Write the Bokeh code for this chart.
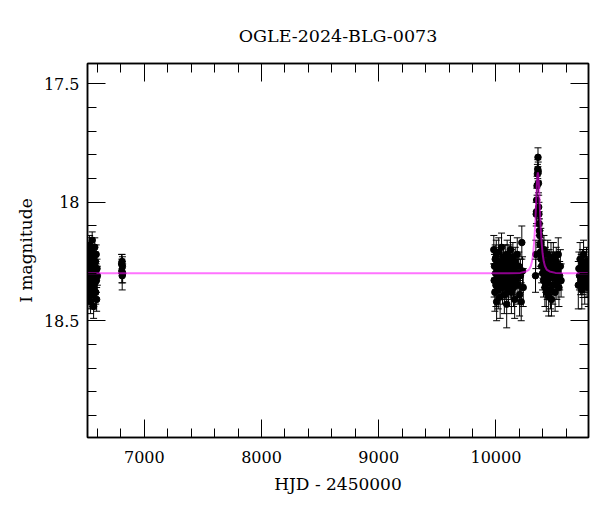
from bokeh.plotting import figure
from bokeh.models import (ColumnDataSource, Range1d, FixedTicker, LinearAxis,
                          Whisker, TeeHead, Title)
from bokeh.embed import file_html
from bokeh.resources import INLINE

# ---------------- data (HJD-2450000, I mag, error) ----------------
season_2013 = [
    (6519, 18.27, 0.04), (6521, 18.33, 0.05), (6523, 18.21, 0.04), (6524, 18.36, 0.05),
    (6526, 18.30, 0.04), (6528, 18.25, 0.04), (6529, 18.40, 0.05), (6531, 18.32, 0.04),
    (6533, 18.18, 0.04), (6534, 18.29, 0.05), (6536, 18.35, 0.04), (6538, 18.23, 0.04),
    (6540, 18.31, 0.05), (6541, 18.42, 0.05), (6543, 18.27, 0.04), (6545, 18.34, 0.04),
    (6547, 18.20, 0.05), (6548, 18.30, 0.04), (6550, 18.37, 0.05), (6552, 18.26, 0.04),
    (6554, 18.32, 0.04), (6555, 18.16, 0.035), (6557, 18.29, 0.05), (6559, 18.39, 0.05),
    (6561, 18.24, 0.04), (6563, 18.33, 0.04), (6565, 18.28, 0.05), (6567, 18.44, 0.05),
    (6569, 18.22, 0.04), (6571, 18.31, 0.04), (6573, 18.36, 0.05), (6575, 18.27, 0.04),
    (6577, 18.19, 0.04), (6579, 18.34, 0.05), (6581, 18.30, 0.04), (6583, 18.25, 0.04),
    (6585, 18.38, 0.05), (6587, 18.29, 0.04), (6589, 18.22, 0.04), (6591, 18.33, 0.05),
    (6593, 18.41, 0.05), (6596, 18.28, 0.04), (6599, 18.31, 0.04),
]
season_2014 = [
    (6806, 18.26, 0.04), (6808, 18.29, 0.05), (6810, 18.25, 0.03),
    (6811, 18.31, 0.06), (6813, 18.27, 0.04), (6815, 18.30, 0.04),
]
season_2023 = [
    (9982, 18.20, 0.06), (9985, 18.33, 0.07), (9988, 18.27, 0.05), (9991, 18.38, 0.08),
    (9994, 18.24, 0.06), (9997, 18.30, 0.07), (10000, 18.35, 0.09), (10003, 18.22, 0.06),
    (10006, 18.42, 0.08), (10009, 18.28, 0.06), (10012, 18.31, 0.07), (10016, 18.25, 0.05),
    (10020, 18.37, 0.08), (10024, 18.21, 0.06), (10028, 18.33, 0.07), (10032, 18.29, 0.06),
    (10036, 18.40, 0.09), (10040, 18.26, 0.07), (10044, 18.34, 0.06), (10048, 18.19, 0.06),
    (10052, 18.31, 0.08), (10056, 18.36, 0.07), (10060, 18.27, 0.06), (10064, 18.23, 0.05),
    (10068, 18.32, 0.07), (10072, 18.39, 0.08), (10076, 18.28, 0.06), (10080, 18.25, 0.07),
    (10084, 18.35, 0.06), (10088, 18.30, 0.08), (10092, 18.43, 0.10), (10096, 18.22, 0.06),
    (10100, 18.33, 0.07), (10104, 18.27, 0.06), (10108, 18.37, 0.07), (10112, 18.24, 0.06),
    (10116, 18.31, 0.08), (10120, 18.29, 0.07), (10124, 18.20, 0.06), (10128, 18.34, 0.07),
    (10132, 18.38, 0.09), (10136, 18.26, 0.06), (10140, 18.32, 0.07), (10145, 18.23, 0.06),
    (10150, 18.36, 0.08), (10155, 18.28, 0.07), (10160, 18.41, 0.08), (10165, 18.25, 0.06),
    (10170, 18.33, 0.07), (10176, 18.30, 0.06), (10182, 18.22, 0.07), (10188, 18.35, 0.08),
    (10195, 18.27, 0.06), (10202, 18.39, 0.09), (10209, 18.31, 0.07), (10216, 18.42, 0.08),
    (10221, 18.17, 0.07), (10227, 18.29, 0.06), (10233, 18.36, 0.08),
]
season_2024 = [
    (10338, 18.31, 0.07), (10341, 18.22, 0.06), (10344, 18.05, 0.05), (10346, 18.04, 0.05),
    (10348, 17.99, 0.05), (10351, 17.93, 0.04), (10354, 17.88, 0.04), (10357, 17.86, 0.04),
    (10359, 17.81, 0.04), (10361, 17.87, 0.04), (10363, 17.92, 0.04), (10365, 18.02, 0.05),
    (10367, 18.05, 0.05), (10369, 18.09, 0.05), (10371, 18.12, 0.05), (10374, 18.14, 0.05),
    (10377, 18.18, 0.06), (10380, 18.21, 0.06), (10383, 18.17, 0.06), (10386, 18.24, 0.06),
    (10390, 18.27, 0.07), (10394, 18.22, 0.06), (10398, 18.30, 0.07), (10402, 18.26, 0.06),
    (10406, 18.33, 0.07), (10410, 18.20, 0.06), (10414, 18.29, 0.07), (10418, 18.36, 0.08),
    (10422, 18.25, 0.06), (10426, 18.31, 0.07), (10430, 18.38, 0.08), (10434, 18.27, 0.06),
    (10438, 18.34, 0.07), (10442, 18.22, 0.06), (10446, 18.30, 0.07), (10450, 18.40, 0.08),
    (10454, 18.26, 0.06), (10458, 18.32, 0.07), (10462, 18.29, 0.06), (10466, 18.37, 0.08),
    (10470, 18.24, 0.07), (10474, 18.41, 0.07), (10478, 18.31, 0.06), (10482, 18.28, 0.07),
    (10486, 18.35, 0.08), (10490, 18.23, 0.06), (10495, 18.32, 0.07), (10500, 18.27, 0.06),
    (10505, 18.38, 0.08), (10510, 18.30, 0.07), (10515, 18.25, 0.06), (10520, 18.34, 0.07),
    (10526, 18.29, 0.06), (10532, 18.22, 0.07), (10538, 18.36, 0.08), (10544, 18.31, 0.06),
    (10550, 18.27, 0.07), (10556, 18.33, 0.07),
]
season_2025 = [
    (10703, 18.35, 0.10), (10708, 18.28, 0.07), (10713, 18.31, 0.06), (10718, 18.24, 0.07),
    (10723, 18.33, 0.06), (10728, 18.29, 0.07), (10733, 18.37, 0.08), (10738, 18.26, 0.06),
    (10743, 18.32, 0.07), (10748, 18.22, 0.06), (10753, 18.30, 0.07), (10758, 18.35, 0.08),
    (10763, 18.27, 0.06), (10768, 18.31, 0.07), (10773, 18.25, 0.06), (10778, 18.33, 0.07),
    (10783, 18.29, 0.06), (10788, 18.36, 0.08),
]

# model light curve
model_t = [6500, 10108, 10208, 10258, 10283, 10298, 10308, 10318, 10328, 10333, 10338,
           10343, 10348, 10353, 10358, 10363, 10368, 10373, 10378, 10383, 10388, 10398,
           10408, 10418, 10433, 10458, 10508, 10608, 10800]
model_mag = [18.300, 18.300, 18.298, 18.292, 18.284, 18.269, 18.249, 18.215, 18.156, 18.113,
             18.060, 17.999, 17.938, 17.889, 17.874, 17.889, 17.938, 17.999, 18.060, 18.113,
             18.156, 18.215, 18.249, 18.269, 18.284, 18.292, 18.298, 18.300, 18.300]

x_major = [7000, 8000, 9000, 10000]
x_minor = [6600, 6800, 7000, 7200, 7400, 7600, 7800, 8000, 8200, 8400, 8600, 8800, 9000,
           9200, 9400, 9600, 9800, 10000, 10200, 10400, 10600]
y_major = [17.5, 18.0, 18.5]
y_minor = [17.5, 17.6, 17.7, 17.8, 17.9, 18.0, 18.1, 18.2, 18.3, 18.4, 18.5, 18.6, 18.7,
           18.8, 18.9]
y_labels = {17.5: "17.5", 18: "18", 18.5: "18.5"}

title_text = "OGLE-2024-BLG-0073"
x_label = "HJD - 2450000"
y_label = "I magnitude"

# ---------------- build ----------------
rows = season_2013 + season_2014 + season_2023 + season_2024 + season_2025
t = [r[0] for r in rows]
m = [r[1] for r in rows]
e = [r[2] for r in rows]
src = ColumnDataSource(dict(t=t, m=m, lo=[a - b for a, b in zip(m, e)],
                            hi=[a + b for a, b in zip(m, e)]))
msrc = ColumnDataSource(dict(t=model_t, m=model_mag))

FONT = "DejaVu Serif"

p = figure(frame_width=501, frame_height=374,
           x_range=Range1d(6515, 10790), y_range=Range1d(18.993, 17.414),
           output_backend="svg", toolbar_location=None,
           min_border_left=87, min_border_top=63, min_border_right=4, min_border_bottom=10,
           x_axis_location=None, y_axis_location=None)
p.xgrid.visible = False
p.ygrid.visible = False
p.outline_line_color = "black"
p.outline_line_width = 1.5
p.background_fill_color = "white"
p.border_fill_color = "white"

xt = FixedTicker(ticks=x_major, minor_ticks=x_minor)
yt = FixedTicker(ticks=y_major, minor_ticks=y_minor)


def style(ax):
    ax.axis_line_color = "black"
    ax.axis_line_width = 1.5
    ax.major_tick_in = 18
    ax.major_tick_out = 0
    ax.minor_tick_in = 9
    ax.minor_tick_out = 0
    ax.major_tick_line_color = "black"
    ax.minor_tick_line_color = "black"
    ax.major_tick_line_width = 1
    ax.minor_tick_line_width = 1
    ax.major_label_text_font = FONT
    ax.major_label_text_color = "black"
    ax.major_label_text_font_size = "16px"
    ax.axis_label_text_font = FONT
    ax.axis_label_text_font_style = "normal"
    ax.axis_label_text_color = "black"
    ax.axis_label_text_font_size = "17px"


bottom = LinearAxis(ticker=xt, axis_label=x_label)
style(bottom)
bottom.major_label_standoff = 13
bottom.axis_label_standoff = 8
left = LinearAxis(ticker=yt, axis_label=y_label, major_label_overrides=y_labels)
style(left)
left.major_label_standoff = 8
left.axis_label_standoff = 5
top = LinearAxis(ticker=xt, major_label_overrides={v: "" for v in x_major})
style(top)
top.major_label_standoff = 0
right = LinearAxis(ticker=yt, major_label_overrides={v: "" for v in y_major})
style(right)
right.major_label_standoff = 0
p.add_layout(bottom, "below")
p.add_layout(left, "left")
p.add_layout(top, "above")
p.add_layout(right, "right")

p.title = Title(text=title_text, align="center", text_font=FONT, text_font_size="17.5px",
                text_font_style="normal", text_color="black", standoff=36)

w = Whisker(base="t", lower="lo", upper="hi", source=src, dimension="height",
            line_color="black", line_width=1,
            lower_head=TeeHead(size=7, line_color="black", line_width=1),
            upper_head=TeeHead(size=7, line_color="black", line_width=1))
p.add_layout(w)
p.scatter("t", "m", source=src, size=6.5, color="black")
p.line("t", "m", source=msrc, line_color="#ff00ff", line_alpha=0.55, line_width=2)

open("out.html", "w").write(file_html(p, INLINE))
